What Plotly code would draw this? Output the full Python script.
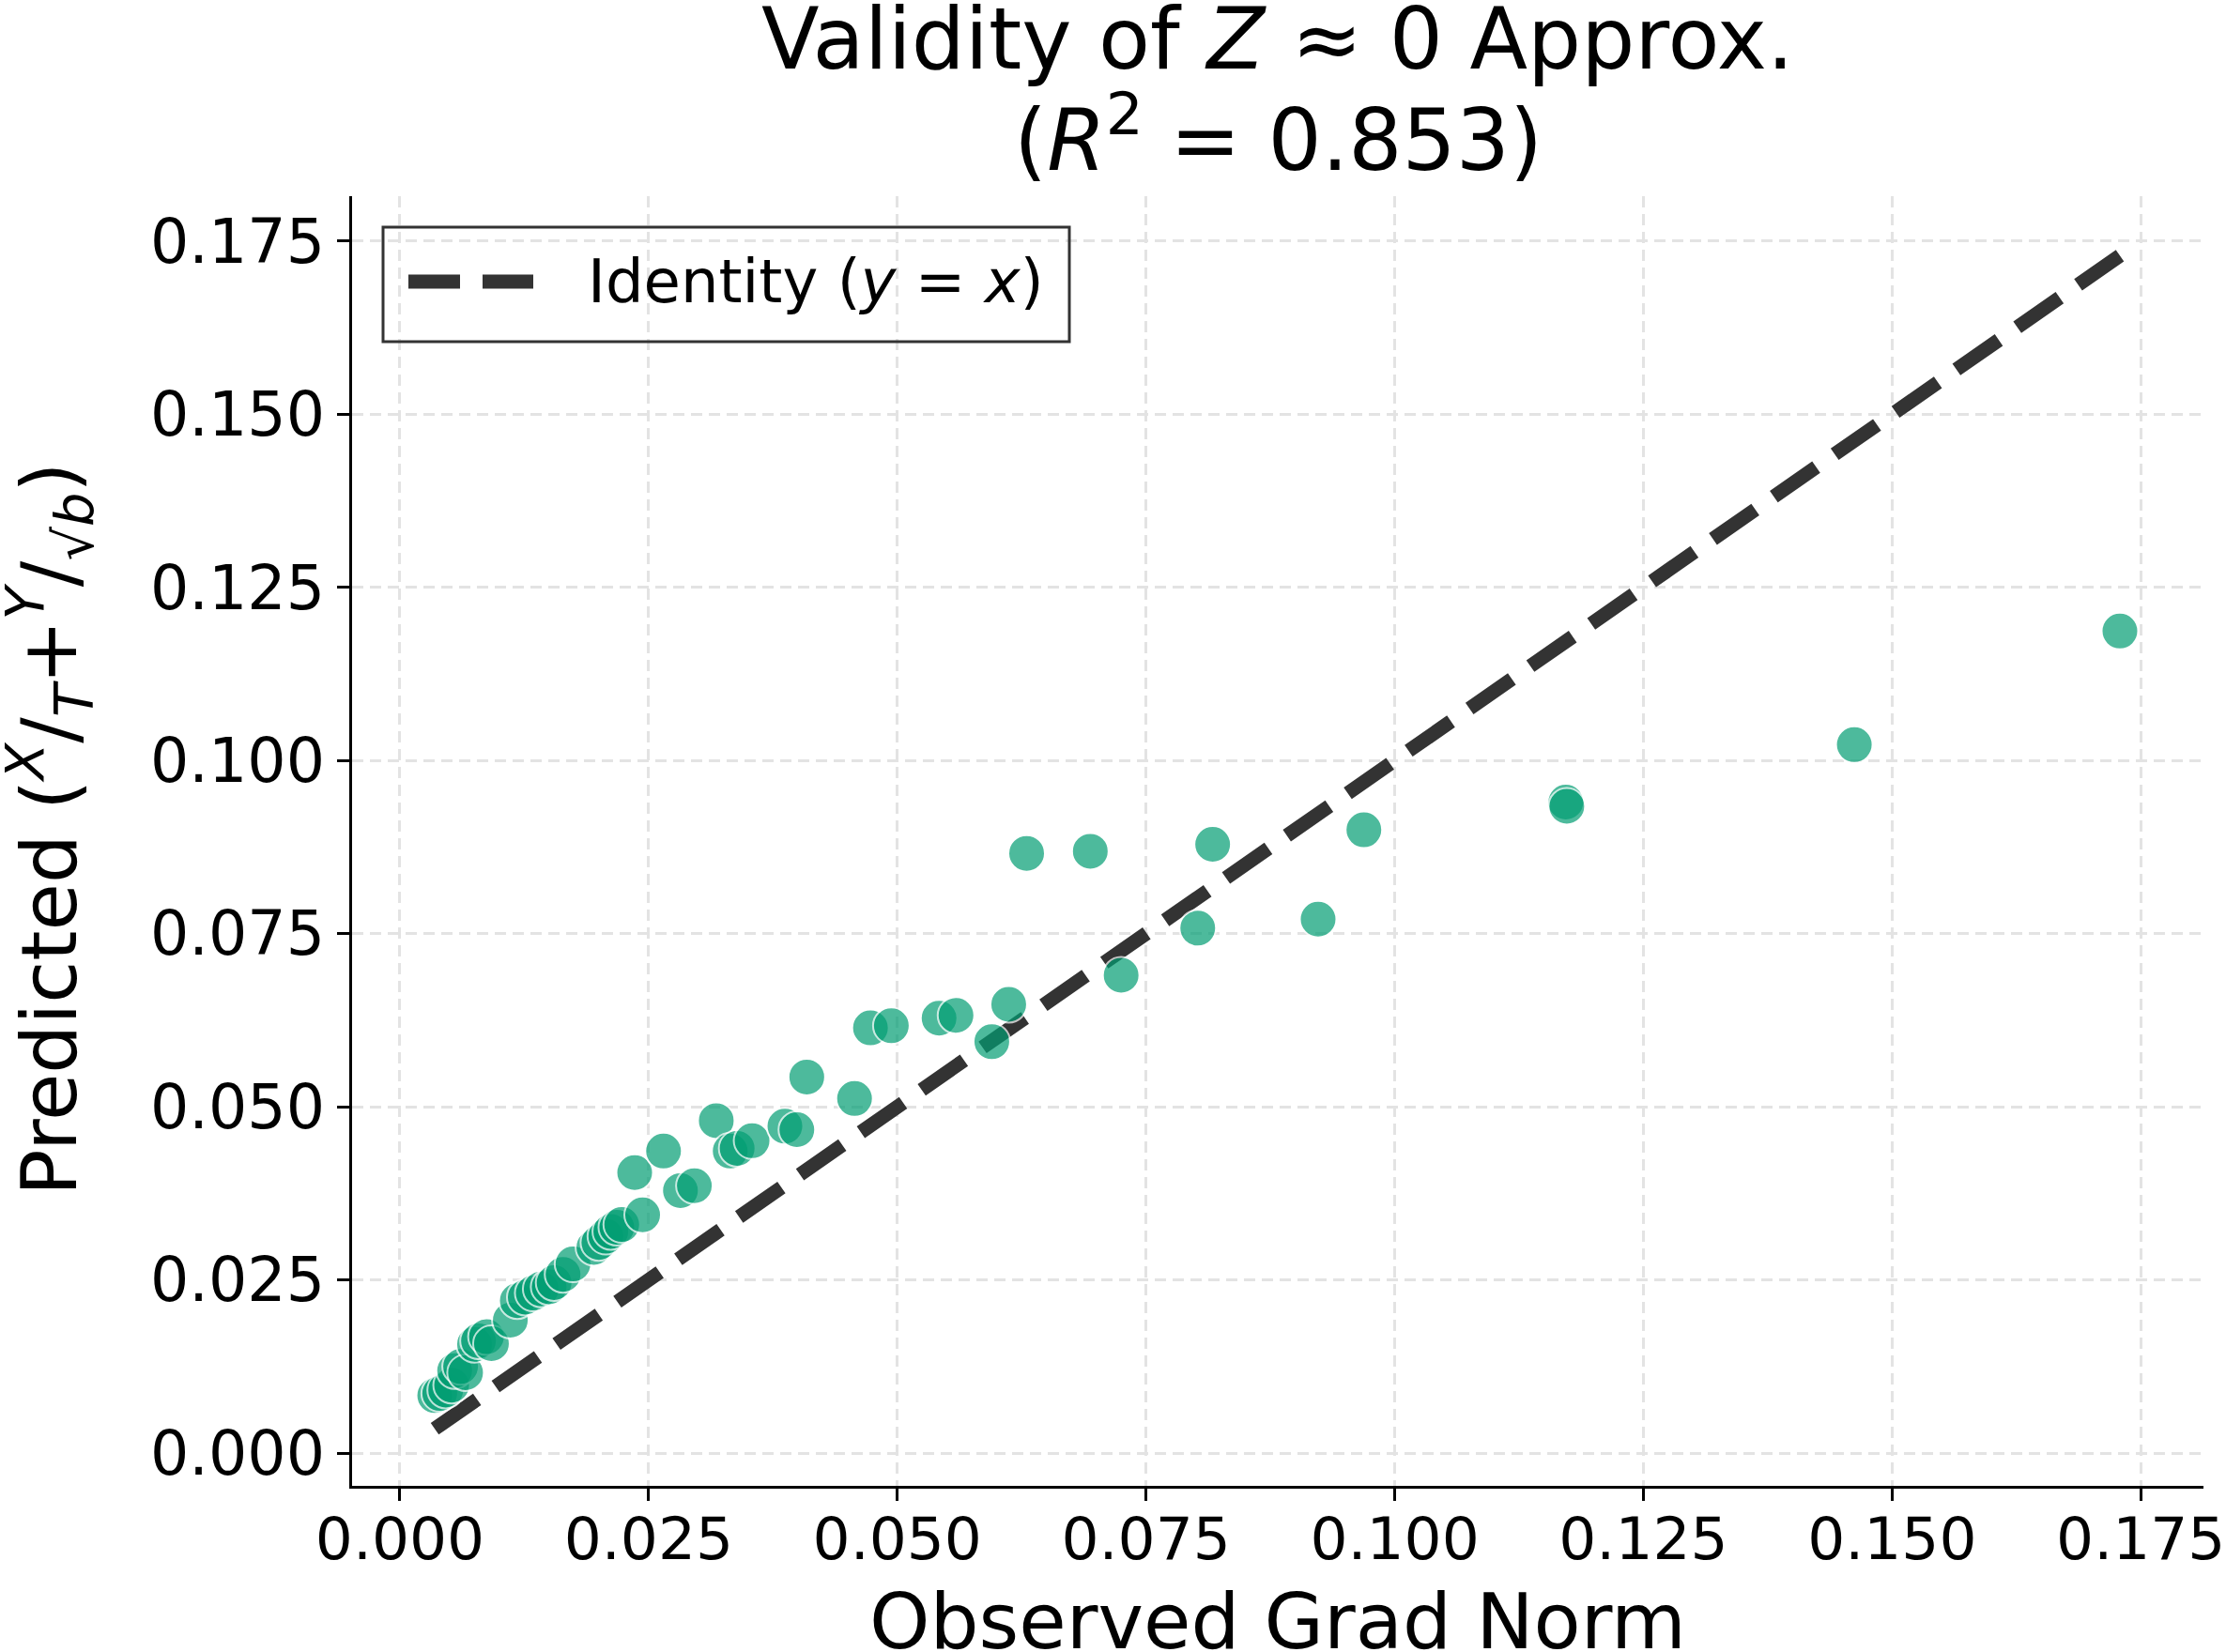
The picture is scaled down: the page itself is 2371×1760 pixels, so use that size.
import plotly.graph_objects as go

# ---- data ----
obs_grad_norm = [
    0.0035, 0.0040, 0.0046, 0.0052, 0.0055, 0.0061, 0.0066, 0.0075, 0.0079, 0.0087,
    0.0092, 0.0111, 0.0118, 0.0126, 0.0134, 0.0142, 0.0150, 0.0155, 0.0164, 0.0174,
    0.0195, 0.0200, 0.0207, 0.0212, 0.0218, 0.0223, 0.0244, 0.0236, 0.0265, 0.0282,
    0.0296, 0.0318, 0.0332, 0.0339, 0.0354, 0.0387, 0.0399, 0.0409, 0.0457, 0.0473,
    0.0494, 0.0542, 0.0559, 0.0595, 0.0612, 0.0725, 0.0630, 0.0694, 0.0802, 0.0817,
    0.0923, 0.0969, 0.1172, 0.1173, 0.1462, 0.1729,
]
predicted = [
    0.0083, 0.0086, 0.0091, 0.0098, 0.0119, 0.0125, 0.0116, 0.0157, 0.0162, 0.0168,
    0.0158, 0.0192, 0.0220, 0.0225, 0.0231, 0.0237, 0.0240, 0.0246, 0.0258, 0.0273,
    0.0297, 0.0304, 0.0313, 0.0320, 0.0326, 0.0330, 0.0344, 0.0405, 0.0436, 0.0379,
    0.0386, 0.0480, 0.0436, 0.0440, 0.0451, 0.0472, 0.0467, 0.0543, 0.0512, 0.0614,
    0.0617, 0.0628, 0.0632, 0.0594, 0.0648, 0.0690, 0.0866, 0.0869, 0.0758, 0.0879,
    0.0771, 0.0900, 0.0940, 0.0934, 0.1023, 0.1187,
]
x_range = [-0.00481, 0.1813]
y_range = [-0.00474, 0.1815]
tick_step = 0.025

title_line1 = "Validity of <i>Z</i> \u2248 0 Approx."
title_line2 = "(<i>R</i><sup>2</sup> = 0.853)"
x_label = "Observed Grad Norm"
y_label = "Predicted (<sup><i>X</i></sup>/<sub><i>T</i></sub>+<sup><i>Y</i></sup>/<sub>\u221a<i>b</i></sub>)"
legend_label = "Identity (<i>y</i> = <i>x</i>)"

FONT = "DejaVu Sans, Verdana, sans-serif"
W, H = 2371, 1760
L, R, T, B = 375, 24, 209, 177
PW, PH = W - L - R, H - T - B

line_x = [min(obs_grad_norm), max(obs_grad_norm)]

fig = go.Figure()
fig.add_trace(go.Scatter(
    x=line_x, y=line_x, mode="lines",
    line=dict(color="#333333", width=15, dash="55px,24px"),
    name="Identity (y = x)", showlegend=False, hoverinfo="skip",
))
fig.add_trace(go.Scatter(
    x=obs_grad_norm, y=predicted, mode="markers",
    marker=dict(size=39, color="#029e73", opacity=0.7,
                line=dict(color="white", width=2)),
    showlegend=False,
))

axis_common = dict(
    showline=True, linecolor="black", linewidth=3,
    ticks="outside", ticklen=13, tickwidth=3, tickcolor="black",
    showgrid=True, gridcolor="#e3e3e3", gridwidth=3, griddash="12px,7px",
    zeroline=False, tick0=0, dtick=tick_step, tickformat=".3f",
    ticklabeloverflow="allow", automargin=False,
)
fig.update_xaxes(range=x_range, ticklabelstandoff=-14,
                 tickfont=dict(family=FONT, size=63, color="black"), **axis_common)
fig.update_yaxes(range=y_range,
                 tickfont=dict(family=FONT, size=65, color="black"), **axis_common)

def px_x(px):
    return (px - L) / PW

def px_y(py):
    return (H - B - py) / PH

annotations = [
    dict(text=title_line1, xref="paper", yref="paper", x=0.5, y=1,
         xanchor="center", yanchor="bottom", yshift=113, showarrow=False,
         font=dict(family=FONT, size=90, color="black")),
    dict(text=title_line2, xref="paper", yref="paper", x=0.5, y=1,
         xanchor="center", yanchor="bottom", yshift=5, showarrow=False,
         font=dict(family=FONT, size=90, color="black")),
    dict(text=x_label, xref="paper", yref="paper", x=0.5, y=0,
         xanchor="center", yanchor="top", yshift=-95, showarrow=False,
         font=dict(family=FONT, size=82, color="black")),
    dict(text=y_label, xref="paper", yref="paper", x=0, y=0.5,
         xanchor="center", yanchor="middle", xshift=53 - L, yshift=12, textangle=-90,
         showarrow=False, font=dict(family=FONT, size=82, color="black")),
    dict(text=legend_label, xref="paper", yref="paper", x=px_x(624), y=px_y(300),
         xanchor="left", yanchor="middle", showarrow=False,
         font=dict(family=FONT, size=64, color="black")),
]

shapes = [
    dict(type="rect", xref="paper", yref="paper",
         x0=px_x(408), x1=px_x(1139), y0=px_y(364), y1=px_y(242),
         line=dict(color="#333333", width=3), fillcolor="rgba(255,255,255,0)"),
    dict(type="line", xref="paper", yref="paper",
         x0=px_x(435), x1=px_x(568), y0=px_y(300), y1=px_y(300),
         line=dict(color="#333333", width=15, dash="55px,24px")),
]

fig.update_layout(
    width=W, height=H,
    margin=dict(l=L, r=R, t=T, b=B, pad=0, autoexpand=False),
    paper_bgcolor="white", plot_bgcolor="white",
    font=dict(family=FONT, color="black"),
    annotations=annotations, shapes=shapes,
    showlegend=False,
)

fig.write_html("out.html")
